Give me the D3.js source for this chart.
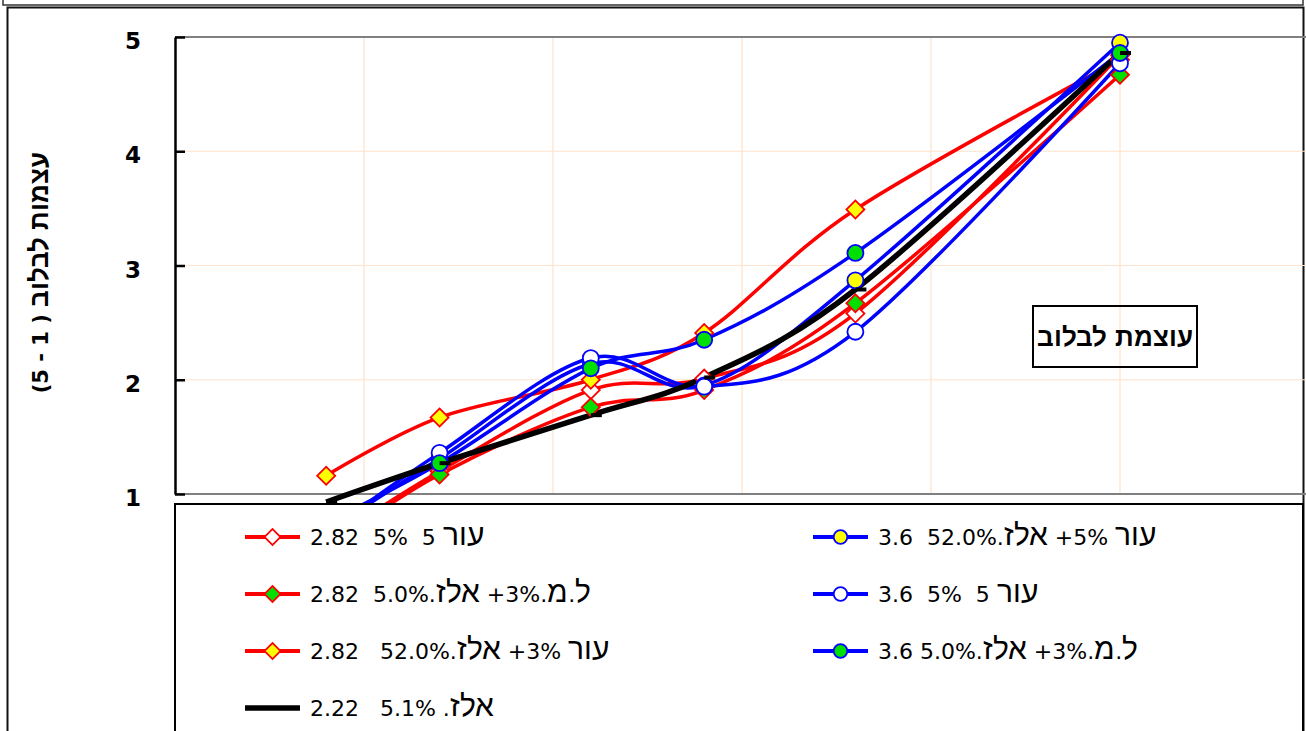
<!DOCTYPE html>
<html><head><meta charset="utf-8">
<script src="https://cdn.jsdelivr.net/npm/d3@7"></script>
<style>
@font-face { font-family: "HebLeg"; font-weight: 400;
  src: local("Liberation Sans"), local("LiberationSans");
  unicode-range: U+0590-05FF, U+FB1D-FB4F; size-adjust: 136%; }
@font-face { font-family: "HebTit"; font-weight: 700;
  src: local("Liberation Sans Bold"), local("LiberationSans-Bold");
  unicode-range: U+0590-05FF, U+FB1D-FB4F; size-adjust: 125%; }
html,body{margin:0;padding:0;background:#fff;overflow:hidden}
</style>
</head><body><svg id="chart" width="1306" height="731"></svg>
<script>
// ---- data ----
const xValues = [0.8, 1.4, 2.2, 2.8, 3.6, 5.0];
const yTicks = [1, 2, 3, 4, 5];
const xGridValues = [1, 2, 3, 4, 5];
const yTitle = "עצמות לבלוב ( 1 - 5)";
const chartTitle = "עוצמת לבלוב";
const seriesNames = [
  "2.82  5%  5 עור",
  "2.82  5.0%.אלז\u200E +3%.ל.מ",
  "2.82   52.0%.אלז\u200E +3% עור",
  "3.6  52.0%.אלז\u200E +5% עור",
  "3.6  5%  5 עור",
  "3.6 5.0%.אלז\u200E +3%.ל.מ",
  "2.22   5.1% .אלז"
];
const valuesA = [0.57, 1.20, 1.91, 2.01, 2.58, 4.84];
const valuesB = [0.53, 1.17, 1.76, 1.91, 2.67, 4.67];
const valuesC = [1.16, 1.67, 2.00, 2.41, 3.49, 4.80];
const valuesD = [0.67, 1.31, 2.14, 1.95, 2.87, 4.95];
const valuesE = [0.66, 1.36, 2.19, 1.94, 2.42, 4.77];
const valuesF = [0.75, 1.27, 2.10, 2.35, 3.11, 4.86];
const valuesG = [0.93, 1.27, 1.69, 2.02, 2.79, 4.86];
const seriesValues = [valuesA, valuesB, valuesC, valuesD, valuesE, valuesF, valuesG];

// ---- styles (separate from data) ----
const styles = [
  {line:"#ff0000", w:3.5, marker:"diamond", fill:"#ffffff", stroke:"#ff0000"},
  {line:"#ff0000", w:3.5, marker:"diamond", fill:"#00e000", stroke:"#ff0000"},
  {line:"#ff0000", w:3.5, marker:"diamond", fill:"#ffff00", stroke:"#ff0000"},
  {line:"#0000ff", w:3.5, marker:"circle", fill:"#ffff00", stroke:"#0000ff"},
  {line:"#0000ff", w:3.5, marker:"circle", fill:"#ffffff", stroke:"#0000ff"},
  {line:"#0000ff", w:3.5, marker:"circle", fill:"#00e000", stroke:"#0000ff"},
  {line:"#000000", w:5.5, marker:"dash", fill:"none", stroke:"#000000"}
];
const legendSlots = [[0,0],[0,1],[0,2],[1,0],[1,1],[1,2],[0,3]];

const svg = d3.select("#chart");
const W = 1306, H = 731;
const x = d3.scaleLinear().domain([0, 6]).range([175, 1309]);
const y = d3.scaleLinear().domain([1, 5]).range([494, 37]);
const FONT_LEG = "HebLeg, 'DejaVu Sans', sans-serif";
const FONT_TIT = "HebTit, 'DejaVu Sans', sans-serif";

// outer frames
svg.append("rect").attr("x",3).attr("y",-50).attr("width",1300).attr("height",55)
  .attr("fill","none").attr("stroke","#333").attr("stroke-width",1.5);
svg.append("rect").attr("x",7.5).attr("y",7.5).attr("width",1296).attr("height",760)
  .attr("fill","#fff").attr("stroke","#111").attr("stroke-width",2);

// grid
const grid = svg.append("g");
grid.selectAll("line.h").data(yTicks.filter(t=>t>1 && t<5)).join("line")
  .attr("x1", x(0)).attr("x2", W).attr("y1", d=>y(d)).attr("y2", d=>y(d))
  .attr("stroke","#ffe3cc").attr("stroke-width",1.2);
grid.selectAll("line.v").data(xGridValues).join("line")
  .attr("x1", d=>x(d)).attr("x2", d=>x(d)).attr("y1", y(5)).attr("y2", y(1))
  .attr("stroke","#ffe3cc").attr("stroke-width",1.2);
[5,1].forEach(v=>{
  svg.append("line").attr("x1", x(0)).attr("x2", W).attr("y1", y(v)).attr("y2", y(v))
    .attr("stroke","#808080").attr("stroke-width",2);
});

// y axis
const yAxis = d3.axisLeft(y).tickValues(yTicks).tickFormat(d3.format("d"))
  .tickSizeInner(-10).tickSizeOuter(0).tickPadding(34);
const ga = svg.append("g").attr("transform",`translate(${x(0)},0)`).call(yAxis);
ga.select(".domain").attr("stroke","#000").attr("stroke-width",2.5);
ga.selectAll(".tick line").attr("stroke","#000").attr("stroke-width",2.5);
ga.selectAll(".tick text").attr("fill","#000")
  .style("font-family","'DejaVu Sans', sans-serif").style("font-weight","bold")
  .style("font-size","23px").attr("dy","0.5em");

// y title
svg.append("text").attr("transform",`translate(48,${(y(1)+y(5))/2+7}) rotate(-90)`)
  .attr("text-anchor","middle").attr("direction","rtl").style("direction","rtl")
  .style("font-family",FONT_TIT).style("font-weight","bold")
  .style("font-size","21px").attr("fill","#000").text(yTitle);

// lines
const line = d3.line().x((d,i)=>x(xValues[i])).y(d=>y(d)).curve(d3.curveCardinal.tension(0));
const gl = svg.append("g");
seriesValues.forEach((vals,si)=>{
  gl.append("path").datum(vals).attr("d", line).attr("fill","none")
    .attr("stroke", styles[si].line).attr("stroke-width", styles[si].w)
    .attr("stroke-linejoin","round");
});

function drawMarker(g, st, cx, cy, big){
  if (st.marker === "diamond") {
    const s = big ? 9 : 8;
    g.append("path").attr("d", d3.symbol(d3.symbolSquare, 2*s*s)())
      .attr("transform",`translate(${cx},${cy}) rotate(45)`)
      .attr("fill", st.fill).attr("stroke", st.stroke).attr("stroke-width",1.8);
  } else if (st.marker === "circle") {
    g.append("circle").attr("cx",cx).attr("cy",cy).attr("r", big ? 8 : 6.8)
      .attr("fill", st.fill).attr("stroke", st.stroke).attr("stroke-width",1.8);
  } else if (st.marker === "dash" && big) {
    g.append("line").attr("x1",cx).attr("x2",cx+11).attr("y1",cy).attr("y2",cy)
      .attr("stroke", st.stroke).attr("stroke-width",4);
  }
}
const gm = svg.append("g");
seriesValues.forEach((vals,si)=>{
  vals.forEach((v,i)=> drawMarker(gm, styles[si], x(xValues[i]), y(v), true));
});

// chart title box
const tb = svg.append("g");
tb.append("rect").attr("x",1033).attr("y",306).attr("width",164).attr("height",61)
  .attr("fill","none").attr("stroke","#000").attr("stroke-width",2);
tb.append("text").attr("x",1115).attr("y",346).attr("text-anchor","middle")
  .style("font-family",FONT_TIT).style("font-weight","bold")
  .style("font-size","21px").attr("fill","#000").text(chartTitle);

// legend
const lg = svg.append("g");
lg.append("rect").attr("x",175).attr("y",504).attr("width",1128).attr("height",300)
  .attr("fill","#fff").attr("stroke","#000").attr("stroke-width",2);
const colX = [245, 813];
const rowY = d3.scaleLinear().domain([0,1]).range([537, 594]);
seriesNames.forEach((name, si)=>{
  const [c, r] = legendSlots[si];
  const x0 = colX[c], yy = rowY(r), st = styles[si];
  lg.append("line").attr("x1",x0).attr("x2",x0+55).attr("y1",yy).attr("y2",yy)
    .attr("stroke", st.line).attr("stroke-width", st.marker==="dash" ? 5.5 : 4);
  drawMarker(lg, st, x0+27.5, yy, false);
  lg.append("text").attr("x", x0+65).attr("y", yy).attr("dy","0.36em")
    .style("white-space","pre")
    .style("font-family",FONT_LEG).style("font-size","22px")
    .attr("fill","#000").text(name);
});
</script>
</body></html>
